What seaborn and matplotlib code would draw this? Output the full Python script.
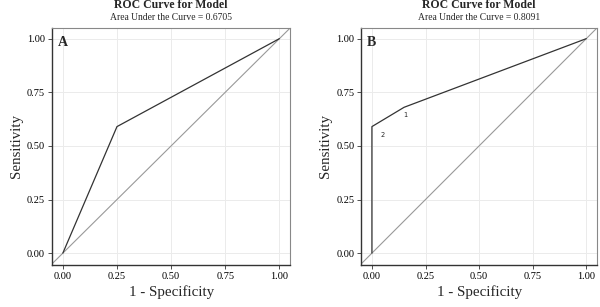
import matplotlib
matplotlib.use("Agg")
import matplotlib.pyplot as plt
import seaborn as sns
import pandas as pd
import numpy as np

sns.set_theme(style="whitegrid")
plt.rcParams['font.family'] = ['Liberation Serif', 'DejaVu Serif']

# Data
panels = ["A", "B"]
auc_values = [0.6705, 0.8091]
fpr_a = [0.0, 0.25, 1.0]
tpr_a = [0.0, 0.59, 1.0]
fpr_b = [0.0, 0.0, 0.15, 1.0]
tpr_b = [0.0, 0.59, 0.68, 1.0]
point_labels_b = ["2", "1"]
label_pos_b_x = [0.05, 0.155]
label_pos_b_y = [0.55, 0.645]
ticks = [0.0, 0.25, 0.5, 0.75, 1.0]
tick_labels = ["0.00", "0.25", "0.50", "0.75", "1.00"]

fig = plt.figure(figsize=(6.0, 3.07), dpi=100)
ax_a = fig.add_axes([0.0867, 0.137, 0.397, 0.772])
ax_b = fig.add_axes([0.602, 0.137, 0.393, 0.772])

curves = [(fpr_a, tpr_a), (fpr_b, tpr_b)]
for ax, panel, auc, (fx, ty) in zip([ax_a, ax_b], panels, auc_values, curves):
    df = pd.DataFrame({"fpr": fx, "tpr": ty})
    ax.axline((0, 0), (1, 1), color="#999999", lw=0.8, zorder=2)
    sns.lineplot(data=df, x="fpr", y="tpr", sort=False, estimator=None,
                 color="#333333", lw=0.9, ax=ax, zorder=3)
    ax.set_xlim(-0.05, 1.05)
    ax.set_ylim(-0.055, 1.05)
    ax.set_xticks(ticks)
    ax.set_xticklabels(tick_labels)
    ax.set_yticks(ticks)
    ax.set_yticklabels(tick_labels)
    ax.set_facecolor("white")
    ax.grid(True, color="#ebebeb", lw=0.7)
    ax.tick_params(axis="both", labelsize=7.5, colors="#333333", length=3,
                   width=0.6, pad=2, left=True, bottom=True)
    ax.tick_params(axis="both", labelcolor="black")
    for side in ["top", "right"]:
        ax.spines[side].set_color("#888888")
        ax.spines[side].set_linewidth(0.8)
    for side in ["left", "bottom"]:
        ax.spines[side].set_color("#333333")
        ax.spines[side].set_linewidth(1.0)
    ax.set_xlabel("1 - Specificity", fontsize=10.8, labelpad=3)
    ax.set_ylabel("Sensitivity", fontsize=10.8, labelpad=3)
    ax.text(0.5, 1.095, "ROC Curve for Model", transform=ax.transAxes,
            ha="center", va="center", fontsize=8.5, fontweight="bold")
    ax.text(0.5, 1.046, f"Area Under the Curve = {auc:.4f}", transform=ax.transAxes,
            ha="center", va="center", fontsize=6.9)
    ax.text(0.025, 0.965, panel, transform=ax.transAxes, ha="left", va="top",
            fontsize=10, fontweight="bold")

for lab, lx, ly in zip(point_labels_b, label_pos_b_x, label_pos_b_y):
    ax_b.text(lx, ly, lab, fontsize=4.8, ha="center", va="center",
              family="DejaVu Sans", zorder=4,
              bbox=dict(facecolor="white", edgecolor="none", pad=1.2))

fig.savefig("out.png", dpi=100)
